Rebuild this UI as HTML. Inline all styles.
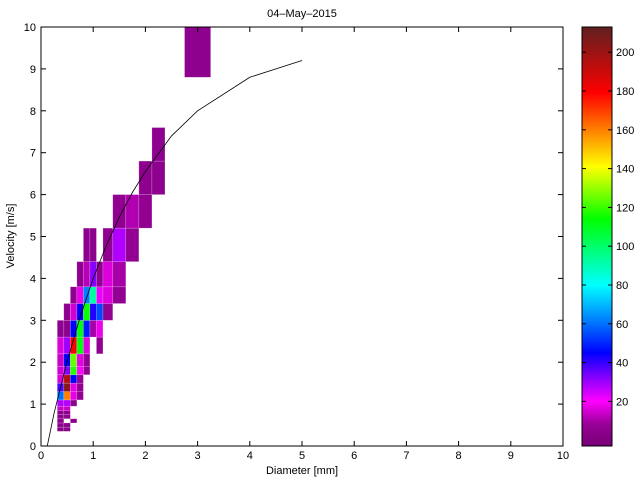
<!DOCTYPE html>
<html><head><meta charset="utf-8"><style>
body{margin:0;background:#fff;width:640px;height:480px;overflow:hidden;font-family:"Liberation Sans",sans-serif}
svg text{font-family:"Liberation Sans",sans-serif;font-size:11px;fill:#000}
</style></head><body>
<svg id="chart" width="640" height="480" xmlns="http://www.w3.org/2000/svg">
<defs>
<linearGradient id="cbgrad" x1="0" y1="1" x2="0" y2="0"></linearGradient>
</defs>
<g id="cells"></g>
<g id="axes"></g>
<g id="cbar"></g>
</svg>
<script>
const diamEdges=[0.312,0.437,0.562,0.687,0.812,0.937,1.062,1.187,1.375,1.625,1.875,2.125,2.375,2.75,3.25];
const velEdges=[0.35,0.45,0.55,0.65,0.75,0.85,0.95,1.1,1.3,1.5,1.7,1.9,2.2,2.6,3.0,3.4,3.8,4.4,5.2,6.0,6.8,7.6,8.8,10.0];
const cellCol=[0,1, 0,1, 0,2, 0,1, 0,1, 0,1, 0,1,2, 0,1,2,3, 0,1,2,3, 0,1,2,3, 0,1,2,3,4, 0,1,2,3,4, 0,1,2,3,4,6, 0,1,2,3,4,5,6, 1,2,3,4,5,6,7, 2,3,4,5,6,7,8, 3,4,5,6,7,8, 4,5,7,8,9, 8,9,10, 10,11, 11, 13];
const cellRow=[0,0, 1,1, 2,2, 3,3, 4,4, 5,5, 6,6,6, 7,7,7,7, 8,8,8,8, 9,9,9,9, 10,10,10,10,10, 11,11,11,11,11, 12,12,12,12,12,12, 13,13,13,13,13,13,13, 14,14,14,14,14,14,14, 15,15,15,15,15,15,15, 16,16,16,16,16,16, 17,17,17,17,17, 18,18,18, 19,19, 20, 22];
const cellCount=[4,4, 4,4, 4,4, 5,5, 5,5, 14,14, 28,28,6, 60,160,17,6, 38,205,17,6, 16,195,45,7, 15,32,118,20,6, 14,45,125,17,7, 16,30,180,112,16,6, 5,5,45,112,48,10,18, 5,15,45,115,42,55,6, 5,18,62,92,22,16,6, 6,12,32,6,16,10, 5,5,6,28,6, 6,11,6, 5,5, 5, 5];
const curveD=[0.12,0.25,0.5,0.75,1.0,1.25,1.5,1.75,2.0,2.5,3.0,4.0,5.0];
const curveV=[0.0,0.78,2.02,3.08,4.0,4.78,5.46,6.05,6.55,7.4,8.0,8.8,9.2];
const xTicks=[0,1,2,3,4,5,6,7,8,9,10];
const yTicks=[0,1,2,3,4,5,6,7,8,9,10];
const cbTicks=[20,40,60,80,100,120,140,160,180,200];

const NS="http://www.w3.org/2000/svg";
const X0=41,X1=563,Y0=446,Y1=27;
const sx=d=>X0+d*(X1-X0)/10, sy=v=>Y0-v*(Y0-Y1)/10;
const CMIN=-3,CMAX=213;
const stops=[[-3,[120,0,120]],[8,[150,0,150]],[20,[255,0,255]],[33,[128,0,255]],[45,[0,0,255]],[62,[0,128,255]],[80,[0,255,255]],[114,[0,255,0]],[141,[255,255,0]],[179,[255,0,0]],[213,[96,32,32]]];
function cmap(v){
  for(let i=0;i<stops.length-1;i++){const a=stops[i],b=stops[i+1];
    if(v<=b[0]){const t=Math.max(0,(v-a[0])/(b[0]-a[0]));
      return 'rgb('+a[1].map((c,k)=>Math.round(c+(b[1][k]-c)*t)).join(',')+')';}}
  return 'rgb(96,32,32)';
}
function mk(tag,attrs,parent){const e=document.createElementNS(NS,tag);for(const k in attrs)e.setAttribute(k,attrs[k]);parent.appendChild(e);return e;}

const cells=document.getElementById('cells');
for(let i=0;i<cellCount.length;i++){
  const c=cellCol[i],r=cellRow[i];
  const x=sx(diamEdges[c]),x2=sx(diamEdges[c+1]);
  const yTop=sy(Math.min(velEdges[r+1],10)),yB=sy(velEdges[r]);
  const e=mk('rect',{x:x,y:yTop,width:x2-x,height:yB-yTop,fill:cmap(cellCount[i]),stroke:'rgba(255,255,255,0.3)','stroke-width':0.6},cells);
  
  
}
const ax=document.getElementById('axes');
const pts=curveD.map((d,i)=>sx(d)+','+sy(curveV[i])).join(' ');
const line=mk('polyline',{points:pts,fill:'none',stroke:'#000','stroke-width':0.8},ax);


const box=mk('rect',{x:X0,y:Y1,width:X1-X0,height:Y0-Y1,fill:'none',stroke:'#000','stroke-width':1},ax);


xTicks.forEach(t=>{
  const x=sx(t);
  mk('line',{x1:x,y1:Y0,x2:x,y2:Y0-5,stroke:'#000'},ax);
  mk('line',{x1:x,y1:Y1,x2:x,y2:Y1+5,stroke:'#000'},ax);
  const tx=mk('text',{x:x,y:Y0+13,'text-anchor':'middle'},ax);tx.textContent=t;
  
  
});
yTicks.forEach(t=>{
  const y=sy(t);
  mk('line',{x1:X0,y1:y,x2:X0+5,y2:y,stroke:'#000'},ax);
  mk('line',{x1:X1,y1:y,x2:X1-5,y2:y,stroke:'#000'},ax);
  const tx=mk('text',{x:X0-5,y:y+4,'text-anchor':'end'},ax);tx.textContent=t;
  
  
});
const title=mk('text',{x:302,y:17,'text-anchor':'middle'},ax);title.textContent='04–May–2015';


const xl=mk('text',{x:302,y:474,'text-anchor':'middle'},ax);xl.textContent='Diameter [mm]';


const yl=mk('text',{x:14,y:236,'text-anchor':'middle',transform:'rotate(-90 14 236)'},ax);yl.textContent='Velocity [m/s]';



const grad=document.getElementById('cbgrad');
stops.forEach(s=>{mk('stop',{offset:((s[0]-CMIN)/(CMAX-CMIN)),'stop-color':'rgb('+s[1].join(',')+')'},grad);});
const cb=document.getElementById('cbar');
const CBX=582,CBW=30;
const cby=v=>Y0-(v-CMIN)*(Y0-Y1)/(CMAX-CMIN);
const cr=mk('rect',{x:CBX,y:Y1,width:CBW,height:Y0-Y1,fill:'url(#cbgrad)',stroke:'#000','stroke-width':1},cb);


cbTicks.forEach(t=>{
  const y=cby(t);
  mk('line',{x1:CBX,y1:y,x2:CBX+4,y2:y,stroke:'#000'},cb);
  mk('line',{x1:CBX+CBW,y1:y,x2:CBX+CBW-4,y2:y,stroke:'#000'},cb);
  const tx=mk('text',{x:CBX+CBW+4,y:y+4},cb);tx.textContent=t;
  
  
});
</script>
</body></html>
